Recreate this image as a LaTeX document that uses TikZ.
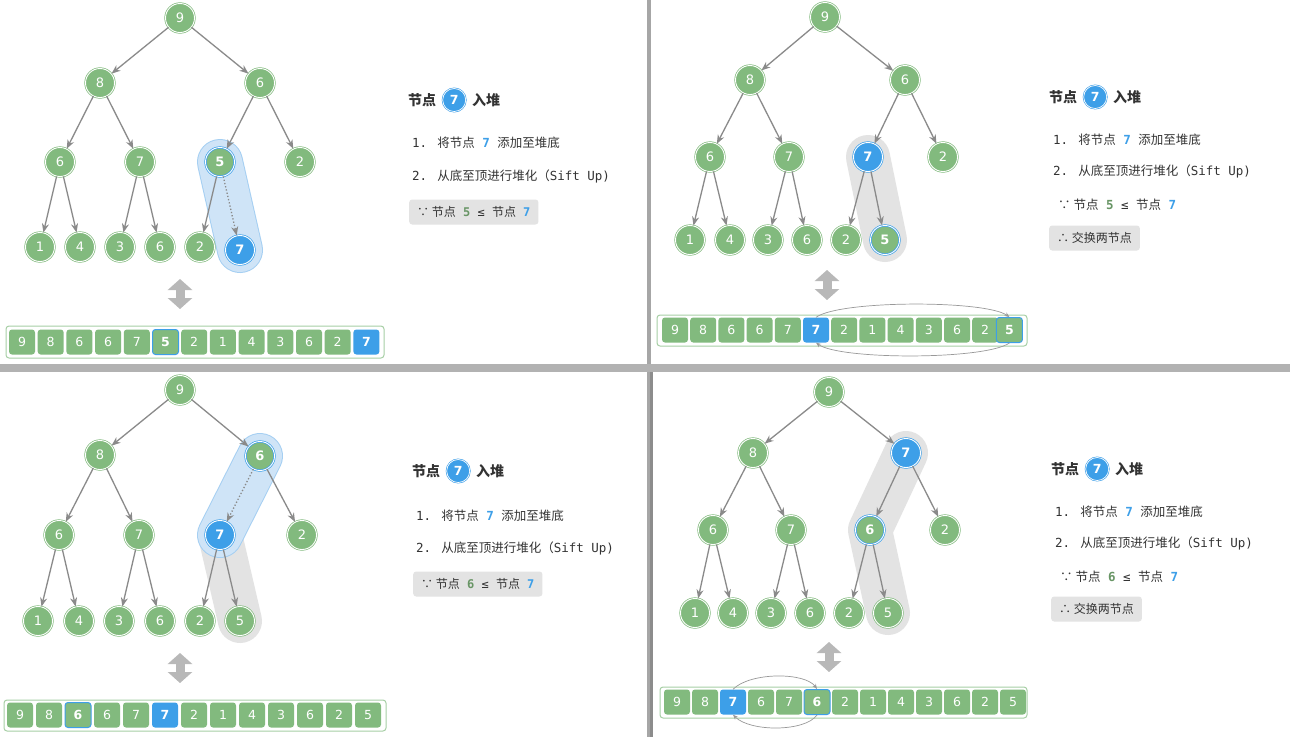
\documentclass[tikz,border=0pt]{standalone}
\usepackage{fontspec}
\setmainfont{DejaVu Sans Mono}
\newfontfamily\cjk{Noto Sans CJK SC}
\newfontfamily\numf{DejaVu Sans}
\usetikzlibrary{arrows.meta,backgrounds,positioning}
\pgfdeclarelayer{bottom}
\pgfsetlayers{bottom,background,main}
\definecolor{G}{HTML}{82BA7E}
\definecolor{B}{HTML}{3D9FE8}
\definecolor{LB}{HTML}{CFE4F7}
\definecolor{LBB}{HTML}{A5CFF2}
\definecolor{GR}{HTML}{E3E3E3}
\definecolor{TX}{HTML}{333333}
\definecolor{ED}{HTML}{8A8A8A}
\newcommand\nd[5]{\node[#4] (#1) at (#2,#3) {#5};}
\newcommand\cl[5]{\node[#4] (#1) at (#2,#3) {#5};}
\tikzset{
 x=1pt,y=-1pt,
 gn/.style={circle,minimum size=29pt,inner sep=0,fill=G,draw=G,double=white,double distance=0.9pt,line width=0.7pt,text=white,font=\numf\fontsize{13}{13}\selectfont},
 bn/.style={gn,fill=B,draw=B,font=\numf\bfseries\fontsize{13}{13}\selectfont},
 gb/.style={gn,draw=B,font=\numf\bfseries\fontsize{13}{13}\selectfont},
 edge/.style={-{Stealth[length=9pt,width=7pt]},ED,line width=1.3pt},
 dedge/.style={edge,dotted},
 cell/.style={rectangle,rounded corners=3pt,minimum width=26pt,minimum height=25pt,inner sep=0,fill=G,text=white,font=\numf\fontsize{12.5}{12.5}\selectfont},
 bcell/.style={cell,fill=B,font=\numf\bfseries\fontsize{12.5}{12.5}\selectfont},
 ocell/.style={cell,draw=B,line width=1pt,font=\numf\bfseries\fontsize{12.5}{12.5}\selectfont},
 frame/.style={draw=G!70,line width=1pt,rounded corners=3pt,fill=white},
 txt/.style={anchor=west,text=TX,font=\fontsize{12.5}{14}\selectfont,inner sep=0},
 tbox/.style={anchor=west,fill=GR,rounded corners=3pt,text=TX,font=\fontsize{12}{14}\selectfont,inner xsep=8pt,minimum height=25pt},
 ttl/.style={anchor=west,text=TX,font=\cjk\bfseries\fontsize{14}{14}\selectfont,inner sep=0},
 tcirc/.style={circle,fill=B,draw=B,double=white,double distance=0.7pt,line width=0.6pt,minimum size=23pt,inner sep=0,text=white,font=\numf\bfseries\fontsize{12.5}{12.5}\selectfont},
 updown/.style={line width=9pt,color=black!28,{Triangle[width=24pt,length=11pt]}-{Triangle[width=24pt,length=11pt]}},
 blucap/.style={line cap=round,line join=round},
 swap/.style={-{Stealth[length=5pt,width=4pt]},black!40,line width=0.7pt},
}
\newcommand\BL{{\bfseries\color{B}7}}
\begin{document}
\begin{tikzpicture}
\useasboundingbox (0,0) rectangle (1290,737);
\begin{pgfonlayer}{bottom}
\fill[white] (0,0) rectangle (1290,737);
\end{pgfonlayer}
% separators
\fill[black!35] (647,0) rectangle (651,737);
\fill[black!30] (0,364) rectangle (1290,372);
\fill[black!45] (650,372) rectangle (653,737);

% ================= Panel 1 =================
\nd{a9}{180}{18}{gn}{9}
\nd{a8}{100}{83}{gn}{8}
\nd{a6}{260}{83}{gn}{6}
\nd{a6b}{60}{162}{gn}{6}
\nd{a7}{140}{162}{gn}{7}
\nd{a5}{220}{162}{gb}{5}
\nd{a2}{300}{162}{gn}{2}
\nd{a1}{40}{247}{gn}{1}
\nd{a4}{80}{247}{gn}{4}
\nd{a3}{120}{247}{gn}{3}
\nd{a6c}{160}{247}{gn}{6}
\nd{a2b}{200}{247}{gn}{2}
\nd{a7b}{240}{250}{bn}{7}
\begin{scope}[on background layer]
\draw[blucap,LBB,line width=46pt] (a5.center) -- (a7b.center);
\draw[blucap,LB,line width=44pt] (a5.center) -- (a7b.center);
\end{scope}
\draw[edge] (a9) -- (a8); \draw[edge] (a9) -- (a6);
\draw[edge] (a8) -- (a6b); \draw[edge] (a8) -- (a7);
\draw[edge] (a6) -- (a5); \draw[edge] (a6) -- (a2);
\draw[edge] (a6b) -- (a1); \draw[edge] (a6b) -- (a4);
\draw[edge] (a7) -- (a3); \draw[edge] (a7) -- (a6c);
\draw[edge] (a5) -- (a2b); \draw[dedge] (a5) -- (a7b);
\coordinate (au1) at (180,279); \coordinate (au2) at (180,309);
\draw[updown] (au1) -- (au2);
\draw[frame] (6,326) rectangle (384,358);
\foreach \v [count=\i from 0] in {9,8,6,6,7} {\cl{ac\i}{22+28.7*\i}{342}{cell}{\v}}
\cl{ac5}{165.5}{342}{ocell}{5}
\foreach \v [count=\i from 6] in {2,1,4,3,6,2} {\cl{ac\i}{22+28.7*\i}{342}{cell}{\v}}
\cl{ac12}{366.4}{342}{bcell}{7}
\node[ttl] (at1) at (408,100) {节点};
\node[tcirc,right=6pt of at1] (at2) {7};
\node[ttl,right=6pt of at2] (at3) {入堆};
\node[txt] (al1) at (412,143) {1. {\cjk 将节点} \BL\ {\cjk 添加至堆底}};
\node[txt] (al2) at (412,176) {2. {\cjk 从底至顶进行堆化（}Sift Up)};
\node[tbox] (ab1) at (409,212) {{\cjk ∵ 节点} {\bfseries\color{G!80!black}5} ≤ {\cjk 节点} \BL};

% ================= Panel 2 =================
\nd{b9}{825}{17}{gn}{9}
\nd{b8}{750}{80}{gn}{8}
\nd{b6}{905}{80}{gn}{6}
\nd{b6b}{710}{157}{gn}{6}
\nd{b7}{789}{157}{gn}{7}
\nd{b7h}{868}{157}{bn}{7}
\nd{b2}{943}{157}{gn}{2}
\nd{b1}{690}{240}{gn}{1}
\nd{b4}{730}{240}{gn}{4}
\nd{b3}{768}{240}{gn}{3}
\nd{b6c}{807}{240}{gn}{6}
\nd{b2b}{846}{240}{gn}{2}
\nd{b5}{885}{240}{gb}{5}
\begin{scope}[on background layer]
\draw[blucap,GR,line width=44pt] (b7h.center) -- (b5.center);
\end{scope}
\draw[edge] (b9) -- (b8); \draw[edge] (b9) -- (b6);
\draw[edge] (b8) -- (b6b); \draw[edge] (b8) -- (b7);
\draw[edge] (b6) -- (b7h); \draw[edge] (b6) -- (b2);
\draw[edge] (b6b) -- (b1); \draw[edge] (b6b) -- (b4);
\draw[edge] (b7) -- (b3); \draw[edge] (b7) -- (b6c);
\draw[edge] (b7h) -- (b2b); \draw[edge] (b7h) -- (b5);
\coordinate (bu1) at (827,270); \coordinate (bu2) at (827,300);
\draw[updown] (bu1) -- (bu2);
\draw[frame] (657,315) rectangle (1027,346);
\foreach \v [count=\i from 0] in {9,8,6,6,7} {\cl{bc\i}{675+28.2*\i}{330}{cell}{\v}}
\cl{bc5}{816}{330}{bcell}{7}
\foreach \v [count=\i from 6] in {2,1,4,3,6,2} {\cl{bc\i}{675+28.2*\i}{330}{cell}{\v}}
\cl{bc12}{1009.4}{330}{ocell}{5}
\draw[swap] (bc5.north) .. controls (840,300) and (985,300) .. (bc12.north);
\draw[swap] (bc12.south) .. controls (985,360) and (840,360) .. (bc5.south);
\node[ttl] (bt1) at (1049,97) {节点};
\node[tcirc,right=6pt of bt1] (bt2) {7};
\node[ttl,right=6pt of bt2] (bt3) {入堆};
\node[txt] (bl1) at (1053,140) {1. {\cjk 将节点} \BL\ {\cjk 添加至堆底}};
\node[txt] (bl2) at (1053,171) {2. {\cjk 从底至顶进行堆化（}Sift Up)};
\node[txt] (bl3) at (1058,205) {{\cjk ∵ 节点} {\bfseries\color{G!80!black}5} ≤ {\cjk 节点} \BL};
\node[tbox] (bb2) at (1049,238) {{\cjk ∴ 交换两节点}};

% ================= Panel 3 =================
\nd{c9}{180}{390}{gn}{9}
\nd{c8}{100}{455}{gn}{8}
\nd{c6}{260}{456}{gb}{6}
\nd{c6b}{59}{535}{gn}{6}
\nd{c7}{139}{535}{gn}{7}
\nd{c7h}{220}{535}{bn}{7}
\nd{c2}{302}{535}{gn}{2}
\nd{c1}{38}{621}{gn}{1}
\nd{c4}{79}{621}{gn}{4}
\nd{c3}{119}{621}{gn}{3}
\nd{c6c}{160}{621}{gn}{6}
\nd{c2b}{200}{621}{gn}{2}
\nd{c5}{240}{621}{gn}{5}
\begin{scope}[on background layer]
\draw[blucap,GR,line width=44pt] (c7h.center) -- (c5.center);
\draw[blucap,LBB,line width=46pt] (c6.center) -- (c7h.center);
\draw[blucap,LB,line width=44pt] (c6.center) -- (c7h.center);
\end{scope}
\draw[edge] (c9) -- (c8); \draw[edge] (c9) -- (c6);
\draw[edge] (c8) -- (c6b); \draw[edge] (c8) -- (c7);
\draw[dedge] (c6) -- (c7h); \draw[edge] (c6) -- (c2);
\draw[edge] (c6b) -- (c1); \draw[edge] (c6b) -- (c4);
\draw[edge] (c7) -- (c3); \draw[edge] (c7) -- (c6c);
\draw[edge] (c7h) -- (c2b); \draw[edge] (c7h) -- (c5);
\coordinate (cu1) at (180,653); \coordinate (cu2) at (180,683);
\draw[updown] (cu1) -- (cu2);
\draw[frame] (4,700) rectangle (386,731);
\foreach \v [count=\i from 0] in {9,8} {\cl{cc\i}{20+29*\i}{715}{cell}{\v}}
\cl{cc2}{78}{715}{ocell}{6}
\cl{cc3}{107}{715}{cell}{6}
\cl{cc4}{136}{715}{cell}{7}
\cl{cc5}{165}{715}{bcell}{7}
\foreach \v [count=\i from 6] in {2,1,4,3,6,2,5} {\cl{cc\i}{20+29*\i}{715}{cell}{\v}}
\node[ttl] (ct1) at (412,471) {节点};
\node[tcirc,right=6pt of ct1] (ct2) {7};
\node[ttl,right=6pt of ct2] (ct3) {入堆};
\node[txt] (cl1) at (416,516) {1. {\cjk 将节点} \BL\ {\cjk 添加至堆底}};
\node[txt] (cl2) at (416,548) {2. {\cjk 从底至顶进行堆化（}Sift Up)};
\node[tbox] (cb1) at (413,584) {{\cjk ∵ 节点} {\bfseries\color{G!80!black}6} ≤ {\cjk 节点} \BL};

% ================= Panel 4 =================
\nd{d9}{829}{392}{gn}{9}
\nd{d8}{753}{453}{gn}{8}
\nd{d7h}{906}{453}{bn}{7}
\nd{d6b}{713}{530}{gn}{6}
\nd{d7}{791}{530}{gn}{7}
\nd{d6}{870}{530}{gb}{6}
\nd{d2}{945}{530}{gn}{2}
\nd{d1}{695}{613}{gn}{1}
\nd{d4}{733}{613}{gn}{4}
\nd{d3}{771}{613}{gn}{3}
\nd{d6c}{810}{613}{gn}{6}
\nd{d2b}{849}{613}{gn}{2}
\nd{d5}{888}{613}{gn}{5}
\begin{scope}[on background layer]
\draw[blucap,GR,line width=44pt] (d7h.center) -- (d6.center) -- (d5.center);
\end{scope}
\draw[edge] (d9) -- (d8); \draw[edge] (d9) -- (d7h);
\draw[edge] (d8) -- (d6b); \draw[edge] (d8) -- (d7);
\draw[edge] (d7h) -- (d6); \draw[edge] (d7h) -- (d2);
\draw[edge] (d6b) -- (d1); \draw[edge] (d6b) -- (d4);
\draw[edge] (d7) -- (d3); \draw[edge] (d7) -- (d6c);
\draw[edge] (d6) -- (d2b); \draw[edge] (d6) -- (d5);
\coordinate (du1) at (829,642); \coordinate (du2) at (829,672);
\draw[updown] (du1) -- (du2);
\draw[frame] (660,687) rectangle (1027,718);
\cl{dc0}{677}{702}{cell}{9}
\cl{dc1}{705}{702}{cell}{8}
\cl{dc2}{733}{702}{bcell}{7}
\cl{dc3}{761}{702}{cell}{6}
\cl{dc4}{789}{702}{cell}{7}
\cl{dc5}{817}{702}{ocell}{6}
\foreach \v [count=\i from 6] in {2,1,4,3,6,2,5} {\cl{dc\i}{677+28*\i}{702}{cell}{\v}}
\draw[swap] (dc2.north) .. controls (750,672) and (805,672) .. (dc5.north);
\draw[swap] (dc5.south) .. controls (805,732) and (750,732) .. (dc2.south);
\node[ttl] (dt1) at (1051,469) {节点};
\node[tcirc,right=6pt of dt1] (dt2) {7};
\node[ttl,right=6pt of dt2] (dt3) {入堆};
\node[txt] (dl1) at (1055,512) {1. {\cjk 将节点} \BL\ {\cjk 添加至堆底}};
\node[txt] (dl2) at (1055,543) {2. {\cjk 从底至顶进行堆化（}Sift Up)};
\node[txt] (dl3) at (1060,577) {{\cjk ∵ 节点} {\bfseries\color{G!80!black}6} ≤ {\cjk 节点} \BL};
\node[tbox] (db2) at (1051,609) {{\cjk ∴ 交换两节点}};
\end{tikzpicture}
\end{document}
